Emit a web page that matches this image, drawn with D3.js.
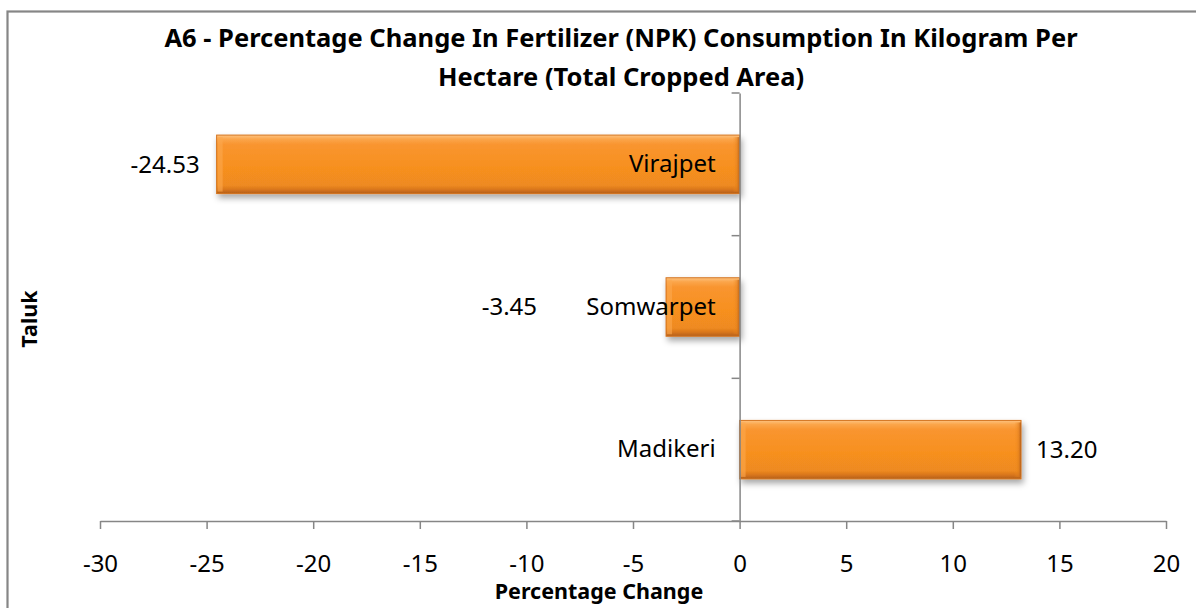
<!DOCTYPE html>
<html>
<head>
<meta charset="utf-8">
<script src="https://cdn.jsdelivr.net/npm/d3@7"></script>
<style>
  body { margin:0; background:#fff; }
  svg  { display:block; font-family:"Noto Sans", "Open Sans", sans-serif; }
</style>
</head>
<body>
<div id="chart_container"></div>
<script>
var title_lines   = ["A6 - Percentage Change In Fertilizer (NPK) Consumption In Kilogram Per", "Hectare (Total Cropped Area)"];
var taluk_names   = ["Virajpet", "Somwarpet", "Madikeri"];
var change_values = [-24.53, -3.45, 13.20];
var x_ticks       = [-30, -25, -20, -15, -10, -5, 0, 5, 10, 15, 20];
var x_title       = "Percentage Change";
var y_title       = "Taluk";

var chart_dimension = { height:608,width:1196 };
var plot_area       = { left:100,right:1166,top:93,bottom:521 };
var axis_color      = "#868686";

var x_scale = d3.scaleLinear().domain([-30, 20]).range([plot_area.left, plot_area.right]);
var y_scale = d3.scaleBand().domain(taluk_names).range([plot_area.top, plot_area.bottom]).padding(0);
var bar_fraction = 0.41;

// Plain hyphen for negatives, as in the original sheet.
var locale_hyphen = d3.formatLocale({ decimal:".", thousands:",", grouping:[3], currency:["", ""], minus:"-" });
var format_tick   = locale_hyphen.format("d");
var format_value  = locale_hyphen.format(".2f");

// The -3.45 label was moved off the bar end in the original sheet.
var label_nudge = { "Somwarpet":-112 };

var svg = d3.select("#chart_container").append("svg")
  .attr("height", chart_dimension.height)
  .attr("width", chart_dimension.width);

var defs = svg.append("defs");
var bar_gradient = defs.append("linearGradient")
  .attr("id", "bar_gradient")
  .attr("x1", 0).attr("y1", 0).attr("x2", 0).attr("y2", 1);
[[0, "#FDC27F"], [0.07, "#FBA54A"], [0.16, "#F99530"], [0.55, "#F7901F"], [0.86, "#EE8A20"], [0.93, "#D9761D"], [1, "#B45F18"]]
  .forEach(function (s) { bar_gradient.append("stop").attr("offset", s[0]).attr("stop-color", s[1]); });
var side_gradient = defs.append("linearGradient")
  .attr("id", "side_gradient")
  .attr("x1", 0).attr("y1", 0).attr("x2", 1).attr("y2", 0);
[[0, "#F7901F", 0], [0.6, "#E07E1E", 0.5], [1, "#B86018", 1]]
  .forEach(function (s) { side_gradient.append("stop").attr("offset", s[0]).attr("stop-color", s[1]).attr("stop-opacity", s[2]); });
var shadow = defs.append("filter")
  .attr("id", "bar_shadow")
  .attr("x", "-10%").attr("y", "-20%").attr("width", "130%").attr("height", "160%");
shadow.append("feDropShadow")
  .attr("dx", 2).attr("dy", 4).attr("stdDeviation", 3)
  .attr("flood-color", "#000").attr("flood-opacity", 0.35);

// Outer chart border, runs past the right and bottom edge of the picture.
svg.append("rect")
  .attr("x", 7.5).attr("y", 11.5)
  .attr("width", chart_dimension.width + 20).attr("height", chart_dimension.height + 20)
  .style("fill", "none").style("stroke", axis_color).style("stroke-width", 2.2);

// Title
svg.append("g").selectAll("text").data(title_lines).enter().append("text")
  .attr("x", 621)
  .attr("y", function (d, i) { return 47 + i*39; })
  .attr("text-anchor", "middle")
  .style("font-size", "25.5px").style("font-weight", "bold")
  .text(function (d) { return d; });

// Bars
var bar_group = svg.append("g");
taluk_names.forEach(function (name, i) {
  var v  = change_values[i];
  var bh = y_scale.bandwidth()*bar_fraction;
  var by = y_scale(name) + (y_scale.bandwidth() - bh)/2;
  var bx = x_scale(Math.min(0, v));
  var bw = Math.abs(x_scale(v) - x_scale(0));
  var g  = bar_group.append("g").attr("filter", "url(#bar_shadow)");
  g.append("rect")
    .attr("x", bx).attr("y", by).attr("width", bw).attr("height", bh)
    .style("fill", "url(#bar_gradient)")
    .style("stroke", "#D37420").style("stroke-width", 1);
  g.append("rect")
    .attr("x", bx + bw - 7).attr("y", by + 2).attr("width", 7).attr("height", bh - 4)
    .style("fill", "url(#side_gradient)");
  g.append("rect")
    .attr("x", bx + 1).attr("y", by + 2).attr("width", 5).attr("height", bh - 4)
    .style("fill", "#FBA94F").style("opacity", 0.6);
});

// Axes
var x_axis = svg.append("g").attr("transform", "translate(0," + plot_area.bottom + ")")
  .call(d3.axisBottom(x_scale).tickValues(x_ticks).tickFormat(format_tick).tickSize(8).tickSizeOuter(0).tickPadding(26));
var y_axis = svg.append("g").attr("transform", "translate(" + x_scale(0) + ",0)")
  .call(d3.axisLeft(y_scale).tickSize(0).tickPadding(24));
[x_axis, y_axis].forEach(function (a) {
  a.select(".domain").style("stroke", axis_color).style("stroke-width", 1.5);
  a.selectAll(".tick line").style("stroke", axis_color).style("stroke-width", 1.5);
  a.selectAll("text").style("font-size", "24px").style("fill", "#000")
    .style("font-family", "\"Noto Sans\", \"Open Sans\", sans-serif");
});
// Category tick marks sit on the band edges.
var band_edges = taluk_names.map(function (d) { return y_scale(d); }).concat([plot_area.bottom]);
y_axis.selectAll(".band_tick").data(band_edges).enter().append("line")
  .attr("x1", -8).attr("x2", 0)
  .attr("y1", function (d) { return d; }).attr("y2", function (d) { return d; })
  .style("stroke", axis_color).style("stroke-width", 1.5);

// Value labels
svg.append("g").selectAll("text").data(taluk_names).enter().append("text")
  .attr("x", function (d, i) {
    var v = change_values[i];
    var n = label_nudge[d] || 0;
    return v < 0 ? x_scale(v) - 17 + n : x_scale(v) + 15 + n;
  })
  .attr("y", function (d) { return y_scale(d) + y_scale.bandwidth()/2; })
  .attr("dy", "0.35em")
  .attr("text-anchor", function (d, i) { return change_values[i] < 0 ? "end" : "start"; })
  .style("font-size", "24px")
  .text(function (d, i) { return format_value(change_values[i]); });

// Axis titles
svg.append("text")
  .attr("x", 599).attr("y", 599)
  .attr("text-anchor", "middle")
  .style("font-size", "21.5px").style("font-weight", "bold")
  .text(x_title);
svg.append("text")
  .attr("transform", "translate(37,319) rotate(-90)")
  .attr("text-anchor", "middle")
  .style("font-size", "21.5px").style("font-weight", "bold")
  .text(y_title);
</script>
</body>
</html>
